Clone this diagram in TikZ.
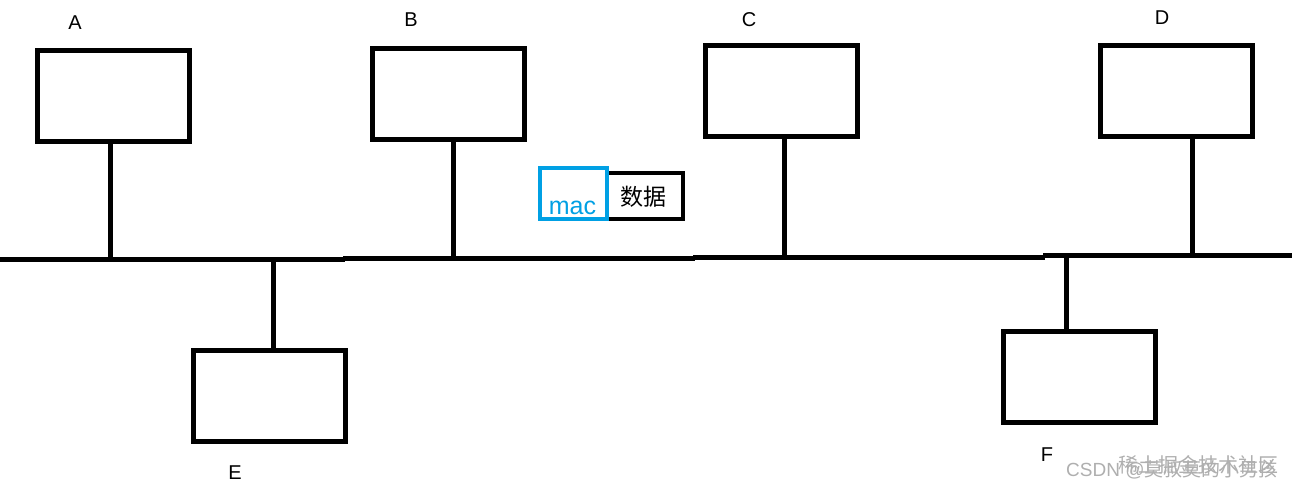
\documentclass[tikz,border=0pt]{standalone}
\usepackage{fontspec}
\setmainfont{Liberation Sans}
\newfontfamily\cjk{Noto Sans CJK SC}
\definecolor{macblue}{RGB}{0,160,228}
\definecolor{wm}{RGB}{175,175,175}
\tikzset{
  host/.style={draw=black, line width=5pt, minimum width=152pt, minimum height=91pt, inner sep=0pt},
  wire/.style={line width=5pt, black},
  lbl/.style={font=\fontsize{20}{22}\selectfont, inner sep=0pt},
  macbox/.style={draw=macblue, line width=4pt, minimum width=67pt, minimum height=51pt, inner sep=0pt},
  databox/.style={draw=black, line width=4pt, minimum width=76pt, minimum height=46pt, inner sep=0pt},
  watermark/.style={text=wm, font=\fontsize{19}{21}\selectfont, inner sep=0pt, anchor=west}
}
\begin{document}
\begin{tikzpicture}[x=1pt,y=-1pt]
\useasboundingbox (0,0) rectangle (1292,493);
\fill[white] (0,0) rectangle (1292,493);
% hosts
\node[host] (A) at (113,95.5) {};
\node[host] (B) at (448,93.5) {};
\node[host] (C) at (781,91) {};
\node[host] (D) at (1176,91) {};
\node[host] (E) at (269.5,396) {};
\node[host] (F) at (1079,376.5) {};
% labels
\node[lbl] (la) at (75,23) {A};
\node[lbl] (lb) at (411,20) {B};
\node[lbl] (lc) at (749,20) {C};
\node[lbl] (ld) at (1162,18) {D};
\node[lbl] (le) at (235,473) {E};
\node[lbl] (lf) at (1047,455) {F};
% bus
\coordinate (b0) at (0,259);
\coordinate (b1) at (345,259);
\coordinate (b2) at (343,258);
\coordinate (b3) at (695,258);
\coordinate (b4) at (693,257);
\coordinate (b5) at (1045,257);
\coordinate (b6) at (1043,255);
\coordinate (b7) at (1292,255);
\draw[wire] (b0) -- (b1);
\draw[wire] (b2) -- (b3);
\draw[wire] (b4) -- (b5);
\draw[wire] (b6) -- (b7);
% taps
\coordinate (ta) at (110,259);
\coordinate (tb) at (453,260);
\coordinate (tc) at (784,258);
\coordinate (td) at (1192,256);
\coordinate (te) at (273,259);
\coordinate (tf) at (1066,255);
\draw[wire] (A.south -| ta) -- (ta);
\draw[wire] (B.south -| tb) -- (tb);
\draw[wire] (C.south -| tc) -- (tc);
\draw[wire] (D.south -| td) -- (td);
\draw[wire] (te) -- (E.north -| te);
\draw[wire] (tf) -- (F.north -| tf);
% frame
\node[databox] (data) at (645,196) {};
\node[macbox] (mac) at (573.5,193.5) {};
\node[text=macblue, font=\fontsize{25}{27}\selectfont, inner sep=0pt, anchor=base] (mactxt) at (572.5,214) {mac};
\node[font=\cjk\fontsize{23}{25}\selectfont, inner sep=0pt] (datatxt) at (643,197) {数据};
% watermark (overlapping, as in the reference)
\node[watermark] (w1) at (1066,470) {CSDN @\cjk 莫叔莫的小男孩};
\node[watermark, font=\cjk\fontsize{20}{22}\selectfont] (w2) at (1118,465) {稀土掘金技术社区};
\end{tikzpicture}
\end{document}
